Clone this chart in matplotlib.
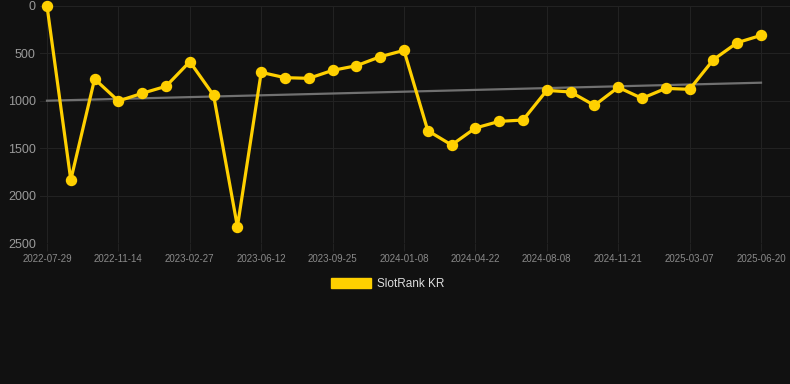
import numpy as np
import matplotlib.pyplot as plt
from matplotlib.patches import Patch

plt.rcParams['font.family'] = ['Liberation Sans', 'DejaVu Sans']

# rank values, one point every ~5 weeks (31 points)
ranks = [0, 1835, 770, 1002, 921, 847, 587, 942, 2328, 700,
         756, 763, 679, 630, 535, 468, 1315, 1466, 1287, 1217,
         1203, 890, 907, 1048, 858, 974, 869, 879, 566, 387, 310]
tick_labels = ['2022-07-29', '2022-11-14', '2023-02-27', '2023-06-12',
               '2023-09-25', '2024-01-08', '2024-04-22', '2024-08-08',
               '2024-11-21', '2025-03-07', '2025-06-20']
trend_ends = [999, 809]

bg = '#111111'
gold = '#FFD000'
grid_c = '#222222'

x = np.arange(len(ranks))

fig = plt.figure(figsize=(7.9, 3.84), dpi=100, facecolor=bg)
ax = fig.add_axes([40/790, 141/384, 750/790, 237/384])
ax.set_facecolor(bg)

ax.plot([x[0], x[-1]], trend_ends, color='#707070', lw=1.6, zorder=2)
ax.plot(x, ranks, color=gold, lw=2.3, marker='o', ms=7.2, zorder=3, clip_on=False)

ax.set_ylim(2500, 0)
ax.set_xlim(-7/23.8, 30 + 29/23.8)
ax.set_yticks([0, 500, 1000, 1500, 2000, 2500])
ax.set_xticks(x[::3])
ax.set_xticklabels(tick_labels)

ax.grid(True, color=grid_c, lw=0.8)
for s in ax.spines.values():
    s.set_visible(False)
ax.tick_params(axis='x', colors=grid_c, length=6, width=0.8, labelcolor='#8a8a8a',
               labelsize=7, pad=2)
ax.tick_params(axis='y', length=0, labelcolor='#9a9a9a', labelsize=9, pad=3)

fig.legend(handles=[Patch(facecolor=gold, edgecolor=gold)], labels=['SlotRank KR'],
           loc='center', bbox_to_anchor=(0.491, 1 - 284/384), frameon=False,
           handlelength=3.4, handleheight=0.9, handletextpad=0.5,
           fontsize=8.5, labelcolor='#dddddd')

fig.savefig('out.png', dpi=100, facecolor=bg)
